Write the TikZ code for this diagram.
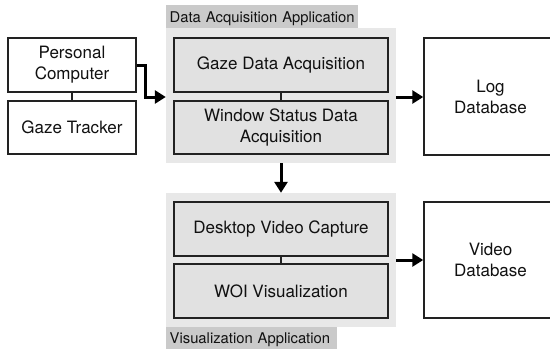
\documentclass[tikz,border=0pt]{standalone}
\usepackage{fontspec}
\setmainfont{TeX Gyre Heros}
\usetikzlibrary{arrows.meta}
\definecolor{cont}{HTML}{E8E8E8}
\definecolor{inner}{HTML}{E1E1E1}
\definecolor{lab}{HTML}{CACACA}
\definecolor{edge}{HTML}{222222}
\definecolor{txt}{HTML}{111111}
\tikzset{
  box/.style={draw=edge, line width=1.5pt, inner sep=0pt, align=center, text=txt,
    font=\fontsize{17}{21}\selectfont},
  wbox/.style={box, fill=white},
  gbox/.style={box, fill=inner, minimum width=214pt},
  container/.style={fill=cont, inner sep=0pt, minimum width=230pt},
  labelbar/.style={fill=lab, inner sep=0pt, anchor=north west, text=txt,
    font=\fontsize{14.8}{17}\selectfont, align=left, text depth=0pt},
  arr/.style={line width=3pt, draw=black, -{Triangle[length=11pt,width=13pt]}},
  link/.style={draw=edge, line width=1.2pt}
}
\begin{document}
\begin{tikzpicture}[x=1pt,y=-1pt]
\useasboundingbox (0,0) rectangle (550,349);
\fill[white] (0,0) rectangle (550,349);
% containers
\node[container, minimum height=135pt] (acq) at (281,95.5) {};
\node[labelbar, minimum width=192pt, minimum height=23pt, text width=190pt] (acqlab) at (166,5) {\hspace*{2.5pt}Data Acquisition Application};
\node[container, minimum height=134pt] (vis) at (281,260) {};
\node[labelbar, minimum width=171pt, minimum height=22pt, text width=169pt] (vislab) at (166,327) {\hspace*{2.5pt}Visualization Application};
% left boxes
\node[wbox, minimum width=128pt, minimum height=54pt] (pc) at (72,65) {Personal\\Computer};
\node[wbox, minimum width=128pt, minimum height=53pt] (gt) at (72,127.5) {Gaze Tracker};
% inner boxes
\node[gbox, minimum height=54pt] (gda) at (281,65) {Gaze Data Acquisition};
\node[gbox, minimum height=53pt] (wsda) at (281,127.5) {Window Status Data\\Acquisition};
\node[gbox, minimum height=54pt] (dvc) at (281,229) {Desktop Video Capture};
\node[gbox, minimum height=54pt] (woi) at (281,291) {WOI Visualization};
% databases
\node[wbox, minimum width=133pt, minimum height=117pt] (log) at (490.5,96.5) {Log\\Database};
\node[wbox, minimum width=133pt, minimum height=116pt] (video) at (490.5,260) {Video\\Database};
% links
\draw[link] (pc.south) -- (gt.north);
\draw[link] (gda.south) -- (wsda.north);
\draw[link] (dvc.south) -- (woi.north);
% arrows
\draw[arr, line join=miter] (pc.east) -- ++(9,0) |- (acq.west |- 0,97);
\draw[arr] (acq.east |- 0,97) -- (log.west |- 0,97);
\draw[arr] (acq.south) -- (vis.north);
\draw[arr] (vis.east) -- (video.west);
\end{tikzpicture}
\end{document}
